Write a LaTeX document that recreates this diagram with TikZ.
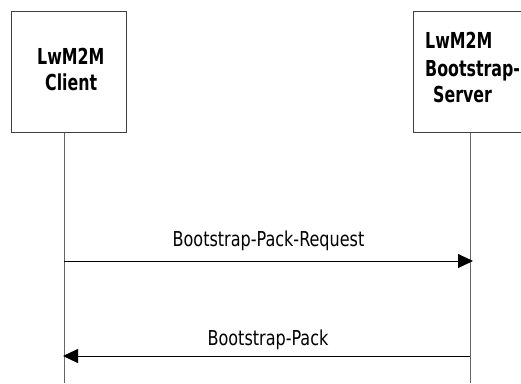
\documentclass[tikz,border=0pt]{standalone}
\usepackage{fontspec}
\setmainfont{DejaVu Sans Condensed}
\newfontfamily\lblfont[FakeStretch=0.87]{DejaVu Sans Condensed}
\newfontfamily\actfont[FakeStretch=0.80]{DejaVu Sans Condensed Bold}
\usetikzlibrary{arrows.meta}
\begin{document}
\begin{tikzpicture}[x=1pt,y=-1pt,
  actor/.style={draw=black!75,line width=0.8pt,fill=white,anchor=north west,inner sep=0pt},
  life/.style={draw=black!60,line width=0.8pt},
  msg/.style={draw=black,line width=0.8pt,-{Triangle[length=15pt,width=14pt]}},
  lbl/.style={font=\lblfont\fontsize{20.5}{22}\selectfont,anchor=base,inner sep=0pt},
  bold/.style={font=\actfont\fontsize{22}{26}\selectfont,anchor=base west,inner sep=0pt}]
\useasboundingbox (0,0) rectangle (521,383);
\node[actor,minimum width=115pt,minimum height=121pt] (client) at (11,11) {};
\node[actor,minimum width=115pt,minimum height=121pt] (server) at (413,11) {};
\node[bold] (ct1) at (37,64) {LwM2M};
\node[bold] (ct2) at (45,90) {Client};
\node[bold] (st1) at (425,48) {LwM2M};
\node[bold] (st2) at (425,76) {Bootstrap-};
\node[bold] (st3) at (433,102) {Server};
\coordinate (cb) at (64,383);
\coordinate (sb) at (470,383);
\draw[life] (client.south -| 64,0) -- (cb);
\draw[life] (server.south -| 470,0) -- (sb);
\coordinate (a1s) at (64,261);
\coordinate (a1e) at (473,261);
\coordinate (a2s) at (470,356);
\coordinate (a2e) at (63,356);
\draw[msg] (a1s) -- (a1e);
\draw[msg] (a2s) -- (a2e);
\node[lbl] (l1) at (268.5,246) {Bootstrap-Pack-Request};
\node[lbl] (l2) at (268,345) {Bootstrap-Pack};
\end{tikzpicture}
\end{document}
